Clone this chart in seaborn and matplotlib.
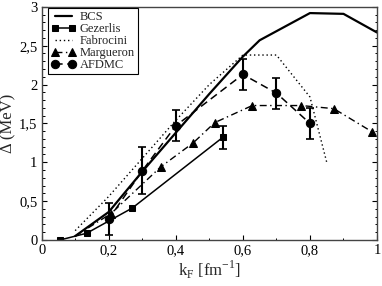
import matplotlib
matplotlib.use("Agg")
import matplotlib.pyplot as plt
from matplotlib.ticker import FuncFormatter, MultipleLocator
import seaborn as sns

# data
bcs_k = [0.1, 0.2, 0.3, 0.4, 0.5, 0.6, 0.65, 0.8, 0.9, 1.0]
bcs_gap = [0.05, 0.36, 0.88, 1.38, 1.88, 2.36, 2.57, 2.92, 2.91, 2.67]

gez_k = [0.055, 0.134, 0.27, 0.54]
gez_gap = [0.0, 0.086, 0.41, 1.32]
gez_err = [0.0, 0.0, 0.0, 0.15]

fab_k = [0.1, 0.2, 0.3, 0.4, 0.5, 0.6, 0.7, 0.8, 0.85]
fab_gap = [0.12, 0.56, 1.05, 1.54, 2.0, 2.38, 2.38, 1.84, 1.0]

mar_k = [0.1, 0.207, 0.355, 0.452, 0.516, 0.628, 0.774, 0.871, 0.986]
mar_gap = [0.05, 0.34, 0.94, 1.25, 1.51, 1.73, 1.73, 1.69, 1.39]

afd_k = [0.2, 0.3, 0.4, 0.6, 0.7, 0.8]
afd_gap = [0.27, 0.89, 1.47, 2.13, 1.89, 1.50]
afd_err = [0.2, 0.3, 0.2, 0.2, 0.2, 0.2]

sns.set_style("ticks")
plt.rcParams["font.family"] = ["Liberation Serif", "DejaVu Serif"]
plt.rcParams["mathtext.fontset"] = "custom"
plt.rcParams["mathtext.rm"] = "Liberation Serif"

fig = plt.figure(figsize=(3.82, 2.86), dpi=100)
ax = fig.add_axes([0.109, 0.161, 0.878, 0.815])

sns.lineplot(x=bcs_k, y=bcs_gap, ax=ax, color="black", lw=1.6, sort=False,
             label="BCS")
sns.lineplot(x=gez_k, y=gez_gap, ax=ax, color="black", lw=1.1, sort=False,
             marker="s", markersize=5, markeredgecolor="black", label="Gezerlis")
sns.lineplot(x=fab_k, y=fab_gap, ax=ax, color="black", lw=1.0, sort=False,
             linestyle=(0, (1, 2)), label="Fabrocini")
# the first Margueron point has no marker in the original
sns.lineplot(x=mar_k, y=mar_gap, ax=ax, color="black", lw=1.0, sort=False,
             marker="^", markersize=5.5, markeredgecolor="black",
             markevery=list(range(1, len(mar_k))),
             linestyle=(0, (5, 2.5, 1, 2.5)), label="Margueron")
sns.lineplot(x=afd_k, y=afd_gap, ax=ax, color="black", lw=1.1, sort=False,
             marker="o", markersize=6, markeredgecolor="black",
             linestyle=(0, (5, 3)), label="AFDMC")

# error bars
ax.errorbar(afd_k, afd_gap, yerr=afd_err, fmt="none", ecolor="black",
            elinewidth=1.5, capsize=3, capthick=1.2)
ax.errorbar(gez_k[-1:], gez_gap[-1:], yerr=gez_err[-1:], fmt="none",
            ecolor="black", elinewidth=1.5, capsize=3, capthick=1.2)

ax.set_xlim(0, 1)
ax.set_ylim(0, 3)
ax.xaxis.set_major_locator(MultipleLocator(0.2))
ax.xaxis.set_minor_locator(MultipleLocator(0.1))
ax.yaxis.set_major_locator(MultipleLocator(0.5))
ax.yaxis.set_minor_locator(MultipleLocator(0.1))
comma = FuncFormatter(lambda v, p: ("%g" % v).replace(".", ","))
ax.xaxis.set_major_formatter(comma)
ax.yaxis.set_major_formatter(comma)
ax.tick_params(which="both", direction="in", right=True, top=False,
               labelsize=10.5, colors="black")
ax.tick_params(which="major", length=3.6, width=0.8, pad=3)
ax.tick_params(which="minor", length=1.8, width=0.7)
for s in ax.spines.values():
    s.set_color("#444444")
    s.set_linewidth(1.0)

ax.set_xlabel(r"k$_\mathregular{F}$ [fm$^\mathregular{-1}$]", fontsize=12,
              labelpad=1)
ax.set_ylabel("Δ (MeV)", fontsize=12, labelpad=2)

leg = ax.legend(loc="upper left", bbox_to_anchor=(0.019, 0.996),
                borderaxespad=0, fontsize=9, handlelength=2.0,
                numpoints=2, labelspacing=0.0, borderpad=0.25,
                handletextpad=0.3, fancybox=False, framealpha=1)
leg.get_frame().set_edgecolor("black")
leg.get_frame().set_linewidth(0.8)

fig.savefig("out.png", dpi=100)
